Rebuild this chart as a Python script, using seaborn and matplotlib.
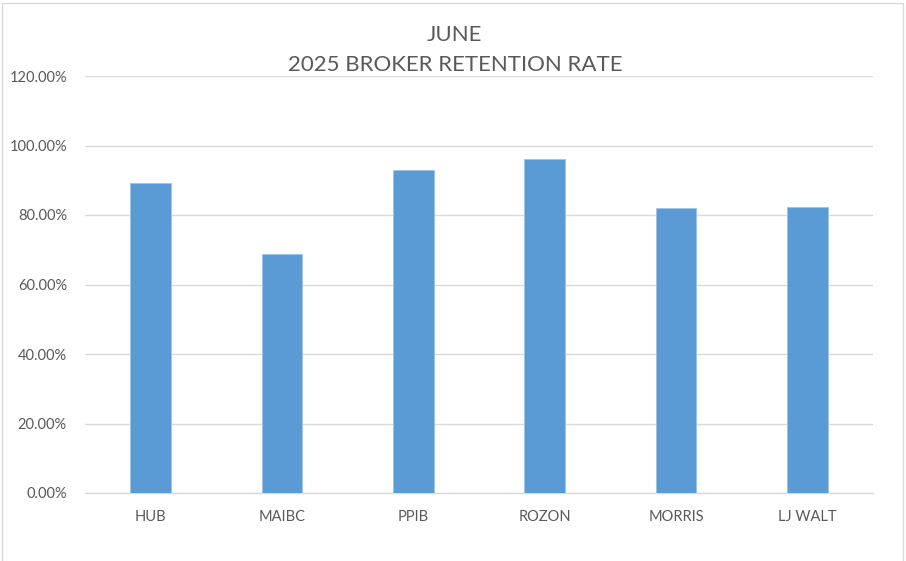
import matplotlib
matplotlib.use("Agg")
import matplotlib.pyplot as plt
import seaborn as sns
import pandas as pd
from matplotlib.ticker import FuncFormatter, MultipleLocator
from matplotlib.patches import Rectangle

brokers = ["HUB", "MAIBC", "PPIB", "ROZON", "MORRIS", "LJ WALT"]
retention = [89.3, 68.9, 92.9, 96.2, 82.1, 82.3]
title_lines = ["JUNE", "2025 BROKER RETENTION RATE"]

sns.set_theme(style="white")
plt.rcParams['font.family'] = ['Lato', 'DejaVu Sans']
plt.rcParams['font.weight'] = 'normal'

df = pd.DataFrame({"broker": brokers, "rate": retention})

fig = plt.figure(figsize=(9.06, 5.61), dpi=100)
ax = fig.add_axes([85/906, 1-493/561, (873-85)/906, (493-76)/561])

sns.barplot(data=df, x="broker", y="rate", color="#5B9BD5", width=0.31,
            edgecolor="#9DC3E6", linewidth=0.6, saturation=1, ax=ax, zorder=3)

ax.set_ylim(0, 120)
ax.yaxis.set_major_locator(MultipleLocator(20))
ax.yaxis.set_major_formatter(FuncFormatter(lambda v, p: f"{v:.2f}%"))
ax.grid(axis="y", color="#D9D9D9", linewidth=1, zorder=0)
ax.set_axisbelow(True)
for s in ["top", "right", "left"]:
    ax.spines[s].set_visible(False)
ax.spines["bottom"].set_color("#D9D9D9")
ax.spines["bottom"].set_linewidth(1)
ax.set_xlabel("")
ax.set_ylabel("")
ax.tick_params(axis="both", colors="#595959", labelsize=10.5, length=0)
ax.tick_params(axis="x", pad=12)
ax.tick_params(axis="y", pad=13)

fig.text(0.502, 1-35/561, title_lines[0], ha="center", va="center", fontsize=16, color="#595959")
fig.text(0.502, 1-65/561, title_lines[1], ha="center", va="center", fontsize=16, color="#595959")

fig.patches.append(Rectangle((2/906, -0.01), 901/906, 1-3/561+0.01, transform=fig.transFigure,
                             fill=False, edgecolor="#D9D9D9", linewidth=1))

fig.savefig("out.png", dpi=100)
